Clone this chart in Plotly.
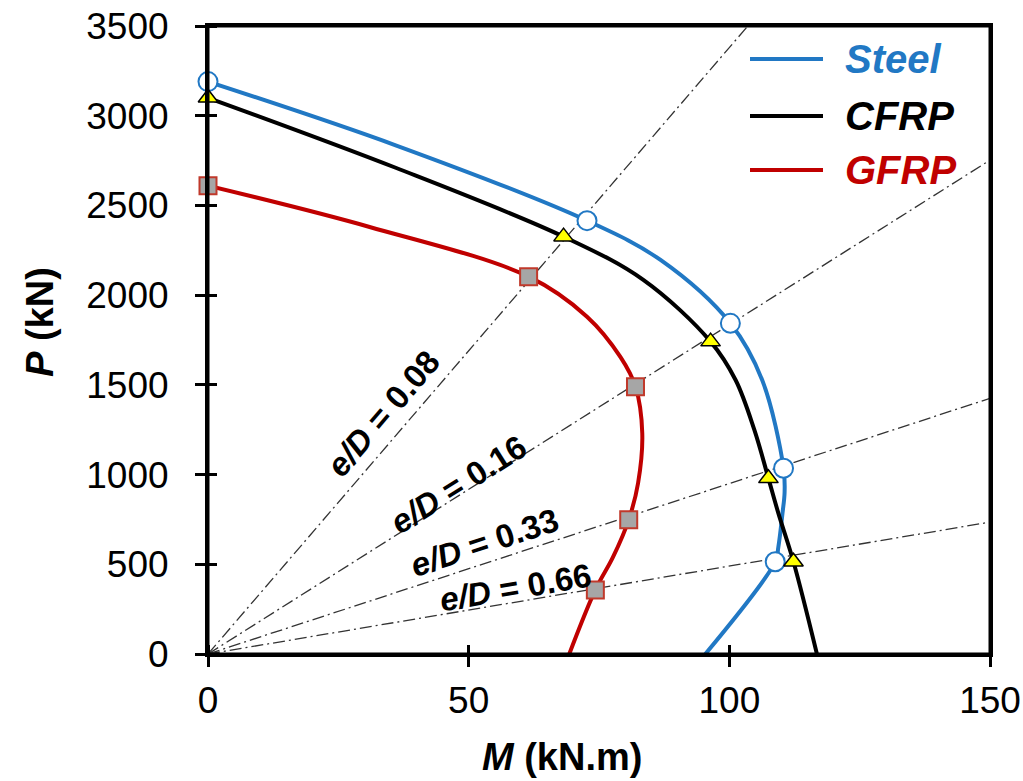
import math
import plotly.graph_objects as go

# ---------------- data ----------------
M_RANGE = [0, 150]
P_RANGE = [0, 3500]
x_ticks = [0, 50, 100, 150]
y_ticks = [0, 500, 1000, 1500, 2000, 2500, 3000, 3500]

# interaction curves (M in kN.m, P in kN)
steel_M = [0, 36, 72.7, 86.8, 100.2, 106.3, 110.4, 110.6, 110.2, 109.4, 108.8, 95.4]
steel_P = [3190, 2835, 2415, 2196, 1843, 1527, 1035, 900, 785, 596, 514, 0]

cfrp_M = [0, 36, 68.2, 83.5, 96.4, 101.2, 104.8, 107.5, 109.4, 112.3, 116.8]
cfrp_P = [3100, 2710, 2326, 2085, 1741, 1527, 1249, 979, 785, 514, 0]

gfrp_M = [0, 31, 61.5, 72.7, 79.1, 82.0, 83.3, 82.5, 80.7, 77.7, 74.3, 69.3]
gfrp_P = [2610, 2380, 2103, 1880, 1656, 1490, 1230, 953, 748, 541, 357, 0]

# marked points on curves
steel_mk_M = [0, 72.7, 100.2, 110.4, 108.8]
steel_mk_P = [3190, 2415, 1843, 1035, 514]
cfrp_mk_M = [0, 68.2, 96.4, 107.5, 112.3]
cfrp_mk_P = [3100, 2326, 1741, 979, 514]
gfrp_mk_M = [0, 61.5, 82.0, 80.7, 74.3]
gfrp_mk_P = [2610, 2103, 1490, 748, 357]

# eccentricity lines (P/M slope, kN per kN.m) and their labels
ed_values = ["0.08", "0.16", "0.33", "0.66"]
ed_slopes = [33.8, 18.35, 9.5, 4.9]
ed_label_M = [33.6, 48.0, 53.0, 58.9]
ed_label_P = [1338, 942, 619, 368]

series_names = ["Steel", "CFRP", "GFRP"]

# ---------------- style ----------------
BLUE = "#2178C4"
BLACK = "#000000"
RED = "#C00000"
FONT = "Liberation Sans, Arial, sans-serif"

W, H = 1023, 781
ML, MR, MT, MB = 208, 33, 26, 127
plot_w = W - ML - MR
plot_h = H - MT - MB


def px_to_paper(px, py):
    """figure pixel -> paper coordinates"""
    return (px - ML) / plot_w, (H - MB - py) / plot_h


fig = go.Figure()

# eccentricity lines
for s in ed_slopes:
    m_end = min(M_RANGE[1], P_RANGE[1] / s)
    fig.add_trace(go.Scatter(
        x=[0, m_end], y=[0, s * m_end], mode="lines",
        line=dict(color="#333333", width=1.3, dash="12px,4px,2px,4px"),
        showlegend=False, hoverinfo="skip"))

# curves
curves = [
    (steel_M, steel_P, BLUE),
    (cfrp_M, cfrp_P, BLACK),
    (gfrp_M, gfrp_P, RED),
]
for name, (mx, py, col) in zip(series_names, curves):
    fig.add_trace(go.Scatter(
        x=mx, y=py, mode="lines", name=name,
        line=dict(color=col, width=4, shape="spline", smoothing=1.0),
        showlegend=False, cliponaxis=False))

# markers
fig.add_trace(go.Scatter(
    x=steel_mk_M, y=steel_mk_P, mode="markers",
    marker=dict(symbol="circle", size=19, color="white",
                line=dict(color=BLUE, width=2)),
    showlegend=False, cliponaxis=False))
fig.add_trace(go.Scatter(
    x=cfrp_mk_M, y=cfrp_mk_P, mode="markers",
    marker=dict(symbol="triangle-up", size=17, color="#FFFF00",
                line=dict(color=BLACK, width=1.5)),
    showlegend=False, cliponaxis=False))
fig.add_trace(go.Scatter(
    x=gfrp_mk_M, y=gfrp_mk_P, mode="markers",
    marker=dict(symbol="square", size=17, color="#A6A6A6",
                line=dict(color="#C0392B", width=2)),
    showlegend=False, cliponaxis=False))

# labels along eccentricity lines
px_per_M = plot_w / (M_RANGE[1] - M_RANGE[0])
px_per_P = plot_h / (P_RANGE[1] - P_RANGE[0])
for v, s, lm, lp in zip(ed_values, ed_slopes, ed_label_M, ed_label_P):
    ang = math.degrees(math.atan(s * px_per_P / px_per_M))
    fig.add_annotation(
        x=lm, y=lp, xref="x", yref="y", xanchor="center", yanchor="middle",
        text=f"<b><i>e/D</i> = {v}</b>", showarrow=False,
        textangle=-ang, font=dict(family=FONT, size=33, color="black"))

# manual legend (long line swatches, coloured bold-italic text)
legend_rows_y = [59, 116, 170]
for name, (_, _, col), ly in zip(series_names, curves, legend_rows_y):
    x0, y0 = px_to_paper(750, ly)
    x1, _ = px_to_paper(823, ly)
    fig.add_shape(type="line", xref="paper", yref="paper",
                  x0=x0, x1=x1, y0=y0, y1=y0,
                  line=dict(color=col, width=4))
    tx, _ = px_to_paper(843, ly)
    fig.add_annotation(x=tx, y=y0, xref="paper", yref="paper",
                       xanchor="left", yanchor="middle", showarrow=False,
                       text=f"<b><i>{name}</i></b>",
                       font=dict(family=FONT, size=40, color=col))

# plot frame
fig.add_shape(type="rect", xref="paper", yref="paper",
              x0=0, x1=1, y0=0, y1=1, line=dict(color="black", width=3),
              fillcolor="rgba(0,0,0,0)")

# cross ticks: major ticks outside, minor ticks (same places) inside
x_minor = [v + 1e-6 for v in x_ticks]
y_minor = [v + 1e-5 for v in y_ticks]

axis_common = dict(
    showgrid=False, zeroline=False, showline=True, linecolor="black",
    linewidth=3, mirror=True, ticks="outside", ticklen=10, tickwidth=2.5,
    tickcolor="black", automargin=False,
    tickfont=dict(family=FONT, size=37, color="black"))

fig.update_layout(
    width=W, height=H,
    margin=dict(l=ML, r=MR, t=MT, b=MB, pad=0),
    paper_bgcolor="white", plot_bgcolor="white",
    xaxis=dict(range=M_RANGE, tickvals=x_ticks, ticklabelstandoff=2,
               minor=dict(tickvals=x_minor, ticks="inside", ticklen=9,
                          tickwidth=2.5, tickcolor="black", showgrid=False),
               **axis_common),
    yaxis=dict(range=P_RANGE, tickvals=y_ticks, ticklabelstandoff=19,
               minor=dict(tickvals=y_minor, ticks="inside", ticklen=9,
                          tickwidth=2.5, tickcolor="black", showgrid=False),
               **axis_common),
    showlegend=False,
)

# axis titles
tx, ty = px_to_paper(562, 757)
fig.add_annotation(x=tx, y=ty, xref="paper", yref="paper",
                   xanchor="center", yanchor="middle",
                   text="<b><i>M</i> (kN.m)</b>", showarrow=False,
                   font=dict(family=FONT, size=38, color="black"))
tx, ty = px_to_paper(40, 322)
fig.add_annotation(x=tx, y=ty, xref="paper", yref="paper",
                   xanchor="center", yanchor="middle",
                   text="<b><i>P</i> (kN)</b>", showarrow=False, textangle=-90,
                   font=dict(family=FONT, size=38, color="black"))

fig.write_html(
    "out.html",
    config={"displayModeBar": False},
    post_script="document.body.style.margin='0';"
                "document.body.style.overflow='hidden';"
                "window.scrollTo(0,0);")
